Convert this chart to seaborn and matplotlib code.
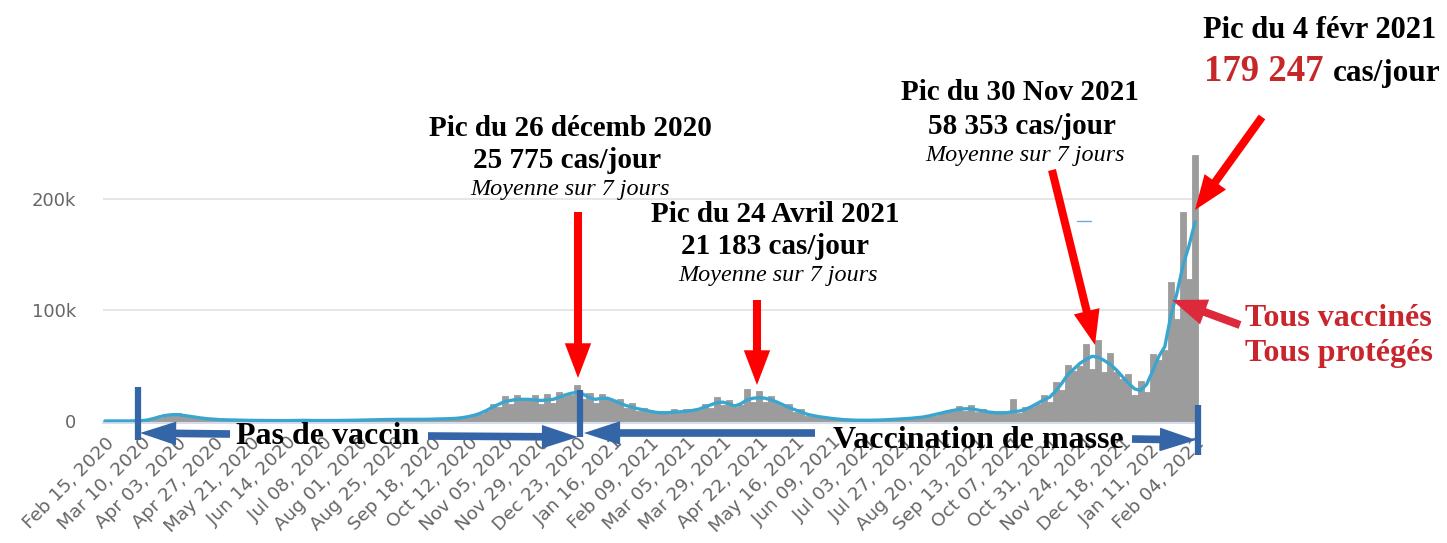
import numpy as np
import pandas as pd
import matplotlib
matplotlib.use('Agg')
import matplotlib.pyplot as plt
from matplotlib.patches import FancyArrowPatch
from matplotlib.lines import Line2D
import seaborn as sns

# daily cases, one sample every 4 days, Feb 15 2020 -> Feb 04 2022
start = '2020-02-15'
end = '2022-02-04'
dates = pd.date_range(start, end, freq='4D')

cases = [
    0, 0, 0, 10, 20, 150, 280, 900, 2800, 3000,
    6200, 4500, 6800, 4900, 4000, 4000, 1800, 2500, 1000, 1400,
    950, 850, 950, 450, 700, 300, 550, 380, 350, 420,
    250, 600, 400, 650, 430, 380, 480, 280, 560, 300,
    660, 620, 710, 1060, 660, 1430, 750, 1680, 1330, 1280,
    1630, 910, 1820, 900, 2040, 1710, 1800, 2630, 1680, 3900,
    2340, 6240, 6650, 9000, 15600, 12500, 22800, 15000, 23400, 18500,
    18500, 23800, 15500, 24700, 16000, 25800, 22300, 23800, 32000, 19500,
    25000, 16000, 24600, 19500, 17600, 20000, 11500, 16300, 9000, 12000,
    8400, 7400, 9100, 6200, 10400, 6800, 10600, 9000, 10000, 15600,
    12000, 21500, 14000, 18600, 12800, 14700, 29000, 17000, 27300, 17000,
    22800, 16200, 13800, 15000, 8200, 10400, 4900, 5800, 3600, 2900,
    2900, 1200, 1560, 540, 840, 620, 620, 880, 600, 1430,
    840, 2040, 1900, 2280, 3630, 2900, 5850, 4700, 8400, 8000,
    9000, 13100, 9200, 14300, 8300, 10800, 7600, 7100, 9000, 6200,
    20000, 7400, 12600, 12400, 15200, 23800, 17500, 35100, 28000, 50400,
    44700, 49400, 69400, 47000, 73000, 44000, 61200, 43700, 38000, 42500,
    23500, 35800, 26500, 60000, 55100, 63700, 125000, 92000, 188000, 128000,
    240000,
]

# 7 day average
avg7 = [
    0, 0, 0, 5, 30, 120, 300, 900, 2200, 3800,
    5000, 5600, 5800, 5000, 4200, 3300, 2600, 2000, 1600, 1200,
    1000, 900, 750, 650, 550, 480, 450, 400, 370, 330,
    350, 450, 600, 550, 450, 400, 380, 400, 430, 480,
    550, 650, 750, 850, 950, 1100, 1250, 1400, 1400, 1350,
    1300, 1300, 1400, 1500, 1700, 1800, 1900, 2100, 2400, 3000,
    3900, 5200, 7000, 9500, 12500, 15000, 17500, 18500, 19500, 19500,
    19500, 19000, 18500, 19000, 19500, 21500, 23500, 25000, 25800, 24000,
    21000, 19500, 20500, 20500, 18500, 16000, 14000, 12500, 11000, 10000,
    8800, 7800, 7300, 7500, 8000, 8300, 8800, 9500, 10500, 12500,
    14500, 16500, 17000, 15500, 13500, 15500, 19000, 20500, 21000, 20500,
    19000, 17000, 14500, 12000, 10000, 8000, 6000, 4800, 3800, 3000,
    2300, 1700, 1200, 900, 700, 650, 650, 700, 850, 1100,
    1400, 1700, 2000, 2400, 2900, 3500, 4500, 5700, 7000, 8400,
    9500, 10500, 11000, 11000, 10000, 9000, 8000, 7500, 7200, 7500,
    8500, 9000, 10500, 13000, 16000, 19000, 21500, 27000, 34000, 42000,
    47000, 52000, 55500, 58300, 57500, 54500, 51000, 46000, 40000, 34000,
    29000, 27500, 33000, 45000, 58000, 67000, 95000, 115000, 140000, 158000,
    179247,
]

y_ticks = [0, 100000, 200000]
y_labels = ['0', '100k', '200k']

df = pd.DataFrame({'date': dates, 'cases': cases, 'avg7': avg7})
df['day'] = (df['date'] - df['date'].iloc[0]).dt.days

tick_dates = pd.date_range(start, end, freq='24D')
tick_days = (tick_dates - tick_dates[0]).days
tick_labels = tick_dates.strftime('%b %d, %Y')

W, H = 1447, 543
def fx(x):
    return x / W
def fy(y):
    return 1 - y / H

sns.set_style('white')
fig = plt.figure(figsize=(W / 100, H / 100), dpi=100)

# axes placed in pixels: day 0 at x=105, 1.514 px/day, y=0 at 421, 1.11 px per 1000
x0, x1 = -1.5, 723
y0, y1 = -1500, 250000
left = 105 + x0 * 1.514
right = 105 + x1 * 1.514
bottom = 421 - y0 * 0.00111
top = 421 - y1 * 0.00111
ax = fig.add_axes([fx(left), fy(bottom), (right - left) / W, (bottom - top) / H])

sns.barplot(data=df, x='day', y='cases', native_scale=True, width=1.0,
            color='#9c9c9c', saturation=1, errorbar=None,
            edgecolor='#9c9c9c', linewidth=0.6, ax=ax)
sns.lineplot(data=df, x='day', y='avg7', color='#3aa6cf', linewidth=2.4, ax=ax)

ax.set_xlim(x0, x1)
ax.set_ylim(y0, y1)
ax.set_yticks(y_ticks, y_labels)
ax.set_xticks(tick_days, tick_labels, rotation=45, ha='right', rotation_mode='anchor')
ax.tick_params(axis='y', length=0, pad=19, labelsize=13, labelcolor='#666666')
ax.tick_params(axis='x', length=0, pad=8, labelsize=13.3, labelcolor='#666666')
ax.set_xlabel('')
ax.set_ylabel('')
ax.yaxis.grid(True, color='#e4e4e4', linewidth=1.3)
ax.set_axisbelow(True)
for s in ['left', 'top', 'right']:
    ax.spines[s].set_visible(False)
ax.spines['bottom'].set_color('#ccd6eb')
ax.spines['bottom'].set_linewidth(1.2)


def arrow(xa, ya, xb, yb, color, tail=0.58, hw=1.9, hl=2.5):
    a = FancyArrowPatch((fx(xa), fy(ya)), (fx(xb), fy(yb)), transform=fig.transFigure,
                        arrowstyle=f'simple,head_length={hl},head_width={hw},tail_width={tail}',
                        mutation_scale=10, color=color, lw=0, shrinkA=0, shrinkB=0)
    fig.add_artist(a)


def bar(x, ya, yb, color, w=4.5):
    fig.add_artist(Line2D([fx(x), fx(x)], [fy(ya), fy(yb)], transform=fig.transFigure,
                          color=color, linewidth=w, solid_capstyle='butt'))


serif = 'Liberation Serif'
red = '#ff0000'
dark_red = '#c8262c'
blue = '#3465a6'

def label(x, y, s, size=21, color='black', style='normal', weight='bold', ha='center', va='center'):
    fig.text(fx(x), fy(y), s, ha=ha, va=va, fontsize=size, color=color,
             family=serif, fontweight=weight, fontstyle=style)

# peak annotations
label(570, 128, 'Pic du 26 décemb 2020')
label(567, 160, '25 775 cas/jour')
label(570, 190, 'Moyenne sur 7 jours', size=17.4, style='italic', weight='normal')
arrow(578, 212, 578, 378, red)

label(775, 214, 'Pic du 24 Avril 2021')
label(775, 246, '21 183 cas/jour')
label(778, 276, 'Moyenne sur 7 jours', size=17.4, style='italic', weight='normal')
arrow(757, 300, 757, 385, red)

label(1020, 92, 'Pic du 30 Nov 2021')
label(1022, 126, '58 353 cas/jour')
label(1025, 156, 'Moyenne sur 7 jours', size=17.4, style='italic', weight='normal')
arrow(1052, 170, 1095, 345, red)

label(1320, 30, 'Pic du 4 févr 2021', size=22)
label(1323, 81, '179 247', size=26.5, color='#c62828', ha='right', va='baseline')
label(1333, 81, 'cas/jour', size=22.5, ha='left', va='baseline')
arrow(1262, 117, 1195, 210, red)

label(1245, 318, 'Tous vaccinés', size=23, color=dark_red, ha='left')
label(1245, 353, 'Tous protégés', size=23, color=dark_red, ha='left')
arrow(1240, 325, 1172, 300, '#dc2a3c')

# periods
label(328, 436, 'Pas de vaccin', size=23)
label(978, 441, 'Vaccination de masse', size=23)
bar(138, 387, 440, blue)
bar(580, 390, 437, blue)
bar(1198, 405, 455, blue)
arrow(230, 434, 140, 433, blue, tail=0.55, hw=1.7, hl=2.6)
arrow(428, 436, 578, 437, blue, tail=0.55, hw=1.7, hl=2.6)
arrow(815, 433, 584, 433, blue, tail=0.55, hw=1.7, hl=2.6)
arrow(1132, 439, 1196, 440, blue, tail=0.55, hw=1.7, hl=2.6)

fig.add_artist(Line2D([fx(1077), fx(1091)], [fy(221), fy(221)], transform=fig.transFigure,
                      color='#7aa5d6', linewidth=1))

fig.savefig('out.png', dpi=100)
